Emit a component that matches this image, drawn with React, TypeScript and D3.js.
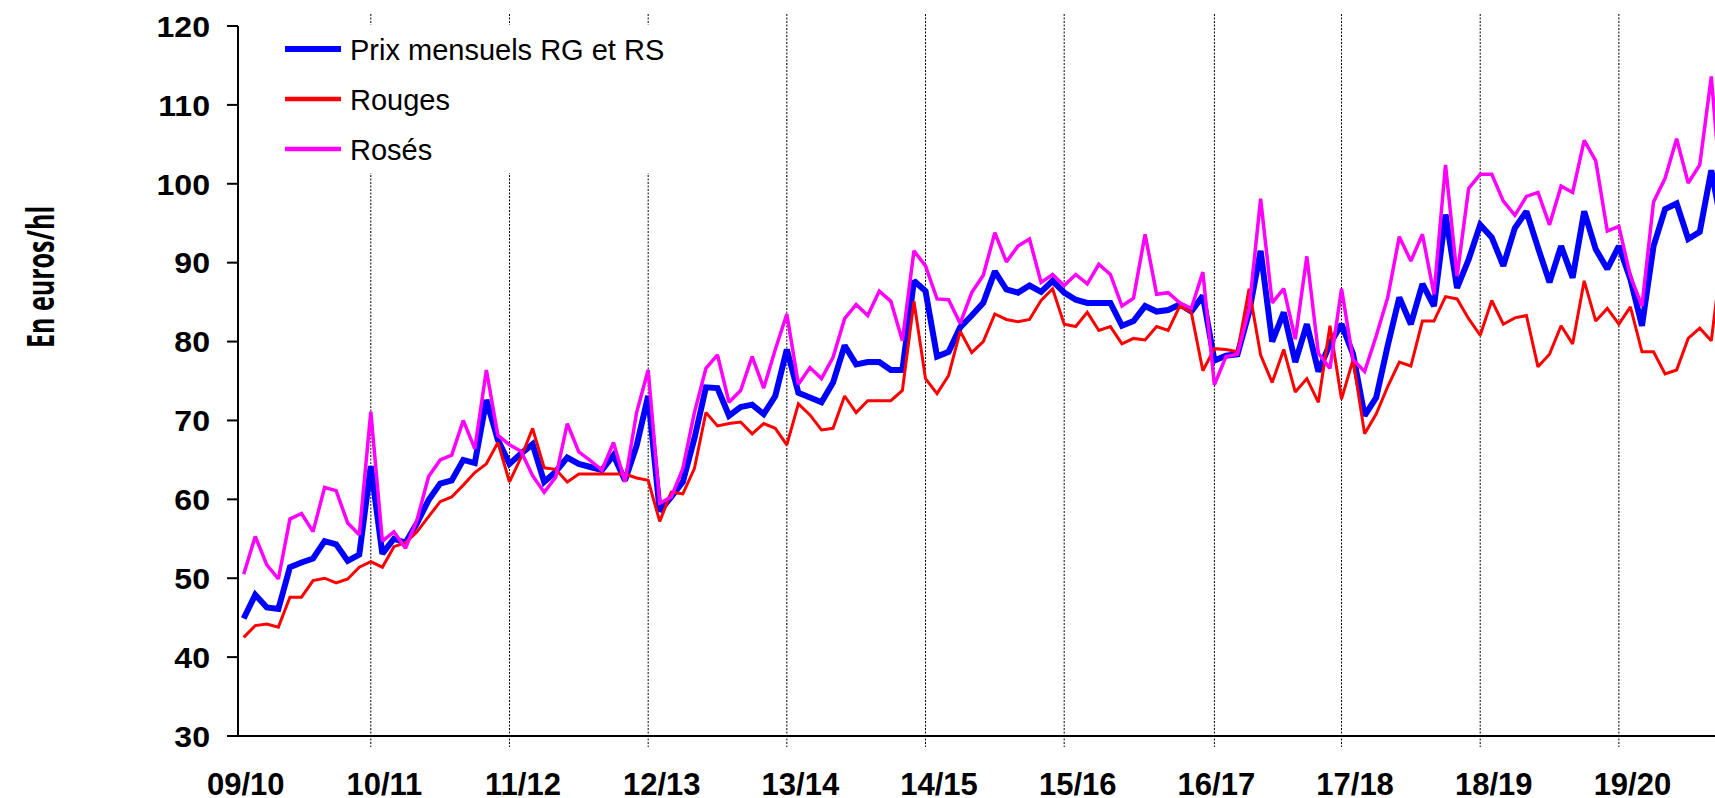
import React, { useLayoutEffect, useRef, useState } from "react";
import * as d3 from "d3";

// Monthly prices (euros/hl), one value per month starting 09/10
const prixRGRS: number[] = [
  44.9, 47.9, 46.3, 46.1, 51.4, 52.0, 52.5, 54.7, 54.3, 52.2, 53.0, 64.2,
  53.1, 55.0, 54.5, 57.0, 59.9, 62.0, 62.4, 65.0, 64.6, 72.6, 67.5, 64.5,
  65.8, 67.0, 62.2, 63.5, 65.3, 64.5, 64.1, 63.7, 65.6, 62.4, 66.8, 73.1,
  58.5, 60.3, 62.2, 67.7, 74.2, 74.1, 70.6, 71.7, 72.0, 70.8, 73.1, 79.0,
  73.5, 72.9, 72.3, 74.8, 79.5, 77.1, 77.4, 77.4, 76.4, 76.4, 87.7, 86.4,
  78.1, 78.7, 81.8, 83.3, 84.9, 88.9, 86.6, 86.2, 87.1, 86.3, 87.7, 86.2,
  85.3, 84.9, 84.9, 84.9, 82.0, 82.6, 84.5, 83.8, 84.0, 84.7, 83.8, 85.8,
  77.6, 78.2, 78.4, 83.7, 91.5, 80.0, 83.7, 77.4, 82.2, 76.2, 79.7, 82.2,
  78.4, 70.6, 72.9, 79.5, 85.6, 82.2, 87.3, 84.5, 96.1, 86.8, 90.4, 94.8,
  93.2, 89.6, 94.4, 96.5, 91.9, 87.5, 92.1, 88.1, 96.5, 91.7, 89.2, 92.1,
  87.9, 82.0, 92.1, 96.8, 97.5, 93.0, 93.9, 101.7, 94.0,
];

const rouges: number[] = [
  42.5, 44.0, 44.2, 43.8, 47.6, 47.6, 49.7, 50.0, 49.4, 49.9, 51.4, 52.1,
  51.4, 54.0, 54.5, 55.9, 57.8, 59.7, 60.3, 61.8, 63.4, 64.5, 67.2, 62.2,
  65.3, 69.0, 64.0, 63.8, 62.2, 63.2, 63.2, 63.2, 63.2, 63.2, 62.7, 62.4,
  57.2, 60.9, 60.7, 63.9, 71.0, 69.3, 69.6, 69.8, 68.3, 69.6, 69.0, 66.9,
  72.1, 70.7, 68.8, 69.0, 73.1, 71.0, 72.5, 72.5, 72.5, 73.8, 85.1, 75.3,
  73.4, 75.7, 81.3, 78.6, 80.0, 83.5, 82.8, 82.5, 82.8, 85.2, 86.7, 82.2,
  81.9, 83.7, 81.4, 81.9, 79.7, 80.4, 80.2, 81.9, 81.4, 84.5, 83.7, 76.3,
  79.1, 79.0, 78.7, 86.7, 78.3, 74.8, 79.0, 73.6, 75.3, 72.3, 82.0, 72.7,
  77.7, 68.3, 70.8, 74.3, 77.4, 76.9, 82.6, 82.6, 85.7, 85.4, 82.9, 80.8,
  85.2, 82.2, 83.0, 83.3, 76.8, 78.4, 82.0, 79.7, 87.7, 82.6, 84.2, 82.2,
  84.4, 78.7, 78.7, 75.9, 76.4, 80.4, 81.7, 80.1, 92.0,
];

const roses: number[] = [
  50.5, 55.3, 51.7, 49.9, 57.5, 58.2, 55.9, 61.5, 61.1, 57.0, 55.5, 71.1,
  54.7, 55.9, 53.8, 57.4, 62.9, 65.0, 65.6, 70.0, 66.4, 76.4, 68.1, 66.9,
  66.1, 63.0, 60.9, 62.8, 69.6, 66.0, 64.9, 63.7, 67.2, 62.2, 71.0, 76.4,
  59.5, 60.3, 63.9, 71.0, 76.6, 78.3, 72.3, 73.8, 78.1, 74.1, 79.0, 83.5,
  74.6, 76.7, 75.3, 78.0, 82.9, 84.7, 83.3, 86.4, 85.1, 80.1, 91.5, 89.6,
  85.4, 85.3, 82.3, 86.2, 88.4, 93.8, 90.1, 92.1, 93.0, 87.5, 88.5, 87.1,
  88.5, 87.3, 89.8, 88.5, 84.5, 85.5, 93.6, 86.0, 86.2, 84.9, 84.2, 88.8,
  74.5, 78.1, 78.4, 84.1, 98.1, 84.9, 86.7, 80.3, 90.8, 78.5, 76.6, 86.7,
  77.7, 76.2, 80.7, 85.6, 93.3, 90.2, 93.6, 86.0, 102.4, 88.3, 99.4, 101.2,
  101.2, 97.8, 96.0, 98.4, 98.9, 94.8, 99.7, 98.9, 105.5, 102.9, 94.0, 94.6,
  88.3, 84.5, 97.7, 100.7, 105.7, 100.1, 102.4, 113.6, 96.0,
];

const campagnes: string[] = [
  "09/10", "10/11", "11/12", "12/13", "13/14", "14/15",
  "15/16", "16/17", "17/18", "18/19", "19/20",
];
// month index where each campaign label sits
const labelIndex: number[] = [0, 12, 24, 36, 48, 60, 72, 84, 96, 108, 120];
// month index of each vertical separator line
const separatorIndex: number[] = [11, 23, 35, 47, 59, 71, 84, 95, 107, 119];

const yTicks: number[] = [30, 40, 50, 60, 70, 80, 90, 100, 110, 120];

const seriesNames: string[] = ["Prix mensuels RG et RS", "Rouges", "Rosés"];
const yTitle = "En euros/hl";

const W = 1715;
const H = 798;

export default function App() {
  const titleRef = useRef<SVGTextElement>(null);
  const [titleScale, setTitleScale] = useState(0.66);
  useLayoutEffect(() => {
    const el = titleRef.current;
    if (el) {
      const w = el.getComputedTextLength();
      if (w > 0) setTitleScale(142 / w);
    }
  }, []);

  const x = d3.scaleLinear().domain([0, 127]).range([243.7, 243.7 + 127 * 11.556]);
  const y = d3.scaleLinear().domain([30, 120]).range([736, 26]);
  const axisX = 238;
  const line = d3
    .line<number>()
    .x((_, i) => x(i))
    .y((d) => y(d));

  const series = [
    { name: seriesNames[0], data: prixRGRS, color: "#0000FF", width: 6 },
    { name: seriesNames[1], data: rouges, color: "#FF0000", width: 3 },
    { name: seriesNames[2], data: roses, color: "#FF00FF", width: 3.5 },
  ];

  const fontAxis = "'Liberation Sans', Arial, Helvetica, sans-serif";

  return (
    <svg
      width={W}
      height={H}
      style={{ position: "absolute", left: 0, top: 0, background: "#fff" }}
    >
      <rect x={0} y={0} width={W} height={H} fill="#fff" />
      {/* separator lines */}
      {separatorIndex.map((si) => (
        <line
          key={"g" + si}
          x1={x(si)}
          x2={x(si)}
          y1={14}
          y2={747}
          stroke="#000"
          strokeWidth={1}
          strokeDasharray="2 1.5"
        />
      ))}
      {/* legend box */}
      <rect x={246} y={25} width={440} height={148} fill="#fff" />
      {/* axes */}
      <line x1={axisX} x2={axisX} y1={y(120)} y2={y(30)} stroke="#000" strokeWidth={2} />
      <line x1={227} x2={W} y1={y(30)} y2={y(30)} stroke="#000" strokeWidth={2} />
      {yTicks.map((t) => (
        <g key={"t" + t}>
          <line x1={227} x2={axisX} y1={y(t)} y2={y(t)} stroke="#000" strokeWidth={2} />
          <g transform={`translate(210,${y(t)}) scale(1.07,1)`}>
            <text
              x={0}
              y={0}
              dy="0.36em"
              textAnchor="end"
              fontFamily={fontAxis}
              fontWeight="bold"
              fontSize={30}
              fill="#000"
            >
              {t}
            </text>
          </g>
        </g>
      ))}
      {campagnes.map((c, k) => (
        <text
          key={c}
          x={x(labelIndex[k]) + 2}
          y={795}
          textAnchor="middle"
          fontFamily={fontAxis}
          fontWeight="bold"
          fontSize={31}
          fill="#000"
        >
          {c}
        </text>
      ))}
      <g transform={`translate(40,277) rotate(-90)`}>
        <text
          ref={titleRef}
          transform={`scale(${titleScale},1)`}
          x={0}
          y={0}
          dy="0.38em"
          textAnchor="middle"
          fontFamily="'Open Sans', 'Noto Sans', sans-serif"
          fontWeight="bold"
          fontSize={38}
          fill="#000"
        >
          {yTitle}
        </text>
      </g>
      {/* series */}
      {series.map((s) => (
        <path
          key={s.name}
          d={line(s.data) || ""}
          fill="none"
          stroke={s.color}
          strokeWidth={s.width}
          strokeLinejoin="miter"
          strokeMiterlimit={2}
        />
      ))}
      {/* legend */}
      {series.map((s, i) => (
        <g key={"l" + s.name}>
          <line
            x1={285}
            x2={341}
            y1={49 + i * 50}
            y2={49 + i * 50}
            stroke={s.color}
            strokeWidth={i === 0 ? 6 : 4.5}
          />
          <text
            x={350}
            y={49 + i * 50 + 10.5}
            fontFamily={fontAxis}
            fontSize={29}
            fill="#000"
          >
            {s.name}
          </text>
        </g>
      ))}
    </svg>
  );
}
